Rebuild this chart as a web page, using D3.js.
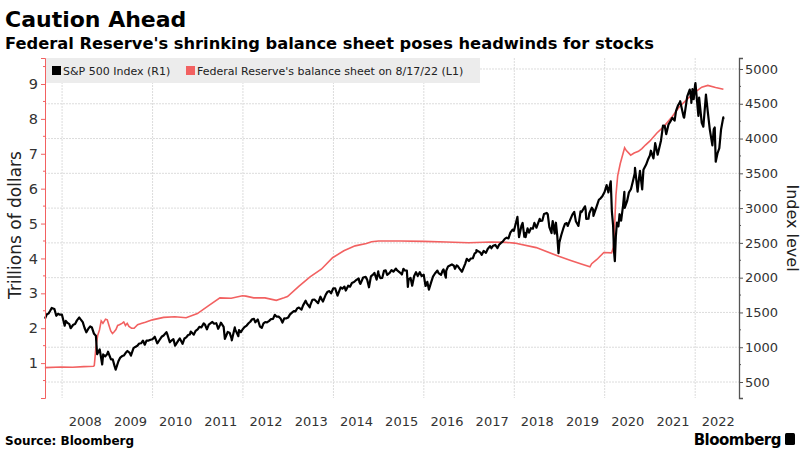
<!DOCTYPE html>
<html><head><meta charset="utf-8">
<script src="https://cdn.jsdelivr.net/npm/d3@7/dist/d3.min.js"></script>
<style>
body{margin:0;background:#fff;}
svg{display:block;font-family:"DejaVu Sans",sans-serif;}
</style></head>
<body><svg id="c" width="805" height="452"></svg>
<script>
const title = "Caution Ahead";
const subtitle = "Federal Reserve's shrinking balance sheet poses headwinds for stocks";
const seriesNames = ["S&P 500 Index (R1)", "Federal Reserve's balance sheet on 8/17/22 (L1)"];
const leftTicks = [1,2,3,4,5,6,7,8,9];
const rightTicks = [500,1000,1500,2000,2500,3000,3500,4000,4500,5000];
const yearLabels = [2008,2009,2010,2011,2012,2013,2014,2015,2016,2017,2018,2019,2020,2021,2022];

const spx = [
["2007-08-16",1411],["2007-08-31",1474],["2007-09-14",1484],["2007-09-28",1527],["2007-10-09",1565],["2007-10-31",1549],["2007-11-15",1452],["2007-11-30",1481],["2007-12-14",1468],["2007-12-31",1468],
["2008-01-22",1310],["2008-01-31",1379],["2008-02-14",1349],["2008-02-29",1331],["2008-03-10",1273],["2008-03-31",1323],["2008-04-15",1334],["2008-04-30",1386],["2008-05-19",1427],["2008-05-30",1400],["2008-06-16",1361],["2008-06-30",1280],["2008-07-15",1214],["2008-07-31",1267],["2008-08-15",1298],["2008-08-29",1283],["2008-09-15",1193],["2008-09-30",1166],["2008-10-10",899],["2008-10-31",969],["2008-11-20",752],["2008-11-28",896],["2008-12-15",868],["2008-12-31",903],
["2009-01-06",935],["2009-01-30",826],["2009-02-13",827],["2009-02-27",735],["2009-03-09",677],["2009-03-31",798],["2009-04-15",852],["2009-04-30",873],["2009-05-15",882],["2009-05-29",919],["2009-06-12",946],["2009-06-30",919],["2009-07-10",879],["2009-07-31",987],["2009-08-14",1004],["2009-08-31",1021],["2009-09-15",1053],["2009-09-30",1057],["2009-10-15",1096],["2009-10-30",1036],["2009-11-13",1094],["2009-11-30",1096],["2009-12-15",1108],["2009-12-31",1115],
["2010-01-19",1150],["2010-02-08",1056],["2010-02-26",1104],["2010-03-15",1150],["2010-03-31",1169],["2010-04-23",1217],["2010-04-30",1187],["2010-05-20",1071],["2010-05-28",1089],["2010-06-18",1117],["2010-07-02",1022],["2010-07-30",1102],["2010-08-09",1127],["2010-08-27",1065],["2010-08-31",1049],["2010-09-15",1125],["2010-09-30",1141],["2010-10-15",1176],["2010-10-29",1183],["2010-11-05",1225],["2010-11-30",1181],["2010-12-15",1236],["2010-12-31",1258],
["2011-01-14",1293],["2011-01-31",1286],["2011-02-18",1343],["2011-02-28",1327],["2011-03-16",1257],["2011-03-31",1326],["2011-04-29",1364],["2011-05-13",1338],["2011-05-31",1345],["2011-06-15",1265],["2011-06-30",1321],["2011-07-07",1353],["2011-07-29",1292],["2011-08-08",1119],["2011-08-31",1219],["2011-09-15",1209],["2011-09-30",1131],["2011-10-03",1099],["2011-10-27",1285],["2011-10-31",1253],["2011-11-25",1159],["2011-11-30",1247],["2011-12-15",1216],["2011-12-30",1258],
["2012-01-13",1289],["2012-01-31",1312],["2012-02-15",1344],["2012-02-29",1366],["2012-03-15",1402],["2012-03-30",1408],["2012-04-10",1358],["2012-04-30",1398],["2012-05-18",1295],["2012-06-01",1278],["2012-06-15",1343],["2012-06-29",1362],["2012-07-13",1356],["2012-07-31",1379],["2012-08-15",1405],["2012-08-31",1407],["2012-09-14",1465],["2012-09-28",1441],["2012-10-15",1440],["2012-10-31",1412],["2012-11-15",1353],["2012-11-30",1416],["2012-12-14",1413],["2012-12-31",1426],
["2013-01-15",1472],["2013-01-31",1498],["2013-02-15",1519],["2013-02-28",1515],["2013-03-15",1561],["2013-03-28",1569],["2013-04-18",1541],["2013-04-30",1598],["2013-05-21",1669],["2013-05-31",1631],["2013-06-24",1573],["2013-06-28",1606],["2013-07-15",1682],["2013-07-31",1686],["2013-08-15",1661],["2013-08-30",1633],["2013-09-18",1726],["2013-09-30",1682],["2013-10-08",1656],["2013-10-31",1757],["2013-11-15",1798],["2013-11-29",1806],["2013-12-13",1775],["2013-12-31",1848],
["2014-01-15",1848],["2014-02-03",1742],["2014-02-28",1859],["2014-03-14",1841],["2014-03-31",1872],["2014-04-11",1815],["2014-04-30",1884],["2014-05-15",1870],["2014-05-30",1924],["2014-06-16",1937],["2014-06-30",1960],["2014-07-24",1988],["2014-07-31",1931],["2014-08-07",1910],["2014-08-29",2003],["2014-09-18",2011],["2014-09-30",1972],["2014-10-15",1862],["2014-10-31",2018],["2014-11-14",2039],["2014-11-28",2068],["2014-12-16",1972],["2014-12-29",2091],["2014-12-31",2059],
["2015-01-15",1993],["2015-01-30",1995],["2015-02-13",2097],["2015-02-27",2105],["2015-03-11",2040],["2015-03-31",2068],["2015-04-15",2107],["2015-04-30",2086],["2015-05-21",2131],["2015-05-29",2107],["2015-06-15",2084],["2015-06-30",2063],["2015-07-08",2046],["2015-07-20",2128],["2015-07-31",2104],["2015-08-17",2102],["2015-08-25",1868],["2015-08-31",1972],["2015-09-16",1996],["2015-09-29",1884],["2015-10-15",2024],["2015-10-30",2079],["2015-11-13",2023],["2015-11-30",2080],["2015-12-14",2022],["2015-12-31",2044],
["2016-01-15",1880],["2016-01-29",1940],["2016-02-11",1829],["2016-02-29",1932],["2016-03-15",2015],["2016-03-31",2060],["2016-04-20",2102],["2016-04-29",2065],["2016-05-19",2040],["2016-05-31",2097],["2016-06-08",2119],["2016-06-27",2001],["2016-06-30",2099],["2016-07-15",2162],["2016-07-29",2174],["2016-08-15",2190],["2016-08-31",2171],["2016-09-09",2128],["2016-09-22",2177],["2016-09-30",2168],["2016-10-14",2133],["2016-11-04",2085],["2016-11-30",2199],["2016-12-13",2271],["2016-12-30",2239],
["2017-01-13",2275],["2017-01-31",2279],["2017-02-15",2350],["2017-02-28",2364],["2017-03-01",2396],["2017-03-31",2363],["2017-04-13",2329],["2017-04-28",2384],["2017-05-17",2357],["2017-05-31",2412],["2017-06-19",2453],["2017-06-30",2423],["2017-07-14",2459],["2017-07-31",2470],["2017-08-18",2426],["2017-08-31",2472],["2017-09-15",2500],["2017-09-29",2519],["2017-10-16",2557],["2017-10-31",2575],["2017-11-15",2565],["2017-11-30",2648],["2017-12-18",2690],["2017-12-29",2674],
["2018-01-26",2873],["2018-02-08",2581],["2018-02-27",2744],["2018-03-09",2786],["2018-03-23",2588],["2018-03-30",2641],["2018-04-02",2582],["2018-04-18",2708],["2018-04-30",2648],["2018-05-15",2711],["2018-05-31",2705],["2018-06-12",2787],["2018-06-29",2718],["2018-07-25",2846],["2018-07-31",2816],["2018-08-15",2819],["2018-08-29",2914],["2018-09-20",2931],["2018-09-28",2914],["2018-10-11",2728],["2018-10-29",2641],["2018-10-31",2712],["2018-11-07",2814],["2018-11-23",2633],["2018-11-30",2760],["2018-12-03",2790],["2018-12-14",2600],["2018-12-24",2351],["2018-12-31",2507],
["2019-01-15",2610],["2019-01-31",2704],["2019-02-15",2776],["2019-02-28",2784],["2019-03-08",2743],["2019-03-29",2834],["2019-04-15",2906],["2019-04-30",2946],["2019-05-13",2812],["2019-05-31",2752],["2019-06-03",2744],["2019-06-20",2954],["2019-06-28",2942],["2019-07-26",3026],["2019-07-31",2980],["2019-08-05",2844],["2019-08-23",2847],["2019-08-30",2926],["2019-09-19",3006],["2019-09-30",2977],["2019-10-02",2887],["2019-10-31",3038],["2019-11-15",3120],["2019-11-29",3141],["2019-12-13",3169],["2019-12-31",3231],
["2020-01-17",3330],["2020-01-31",3226],["2020-02-19",3386],["2020-02-28",2954],["2020-03-09",2747],["2020-03-16",2386],["2020-03-23",2237],["2020-03-31",2585],["2020-04-09",2790],["2020-04-21",2737],["2020-04-30",2912],["2020-05-13",2820],["2020-05-29",3044],["2020-06-08",3232],["2020-06-11",3002],["2020-06-30",3100],["2020-07-15",3227],["2020-07-31",3271],["2020-08-14",3373],["2020-08-31",3500],["2020-09-02",3580],["2020-09-23",3237],["2020-09-30",3363],["2020-10-12",3534],["2020-10-30",3270],["2020-11-09",3550],["2020-11-30",3622],["2020-12-15",3694],["2020-12-31",3756],
["2021-01-08",3825],["2021-01-29",3714],["2021-02-12",3934],["2021-03-04",3768],["2021-03-31",3973],["2021-04-16",4185],["2021-04-30",4181],["2021-05-12",4063],["2021-05-31",4204],["2021-06-15",4246],["2021-06-30",4298],["2021-07-19",4258],["2021-07-30",4395],["2021-08-16",4479],["2021-08-31",4523],["2021-09-02",4537],["2021-09-30",4308],["2021-10-04",4300],["2021-10-29",4605],["2021-11-18",4705],["2021-11-30",4567],["2021-12-01",4513],["2021-12-10",4712],["2021-12-20",4568],["2021-12-31",4766],
["2022-01-03",4796],["2022-01-27",4326],["2022-02-02",4589],["2022-02-23",4225],["2022-03-08",4170],["2022-03-29",4632],["2022-04-12",4397],["2022-04-29",4132],["2022-05-20",3901],["2022-05-31",4132],["2022-06-08",4160],["2022-06-16",3667],["2022-06-30",3785],["2022-07-15",3863],["2022-07-29",4130],["2022-08-16",4305],["2022-08-17",4275]
];

const fed = [
["2007-08-15",0.87],["2007-12-26",0.89],["2008-03-26",0.88],["2008-06-25",0.90],["2008-09-10",0.91],["2008-09-17",0.93],["2008-09-24",1.20],["2008-10-01",1.49],["2008-10-15",1.80],["2008-10-29",1.95],["2008-11-12",2.21],["2008-11-26",2.14],["2008-12-17",2.26],["2008-12-31",2.24],
["2009-01-14",2.08],["2009-01-28",1.92],["2009-02-11",1.85],["2009-02-25",1.90],["2009-03-11",1.96],["2009-03-25",2.08],["2009-04-08",2.10],["2009-04-29",2.14],["2009-05-13",2.18],["2009-05-27",2.08],["2009-06-10",2.14],["2009-06-24",2.05],["2009-07-15",2.00],["2009-08-05",2.00],["2009-09-02",2.10],["2009-10-07",2.14],["2009-11-04",2.17],["2009-12-30",2.24],
["2010-03-31",2.31],["2010-06-30",2.33],["2010-09-29",2.30],["2010-12-29",2.42],["2011-03-30",2.65],["2011-06-29",2.87],["2011-09-28",2.86],["2011-12-28",2.93],["2012-01-25",2.92],["2012-03-28",2.87],["2012-06-27",2.87],["2012-09-26",2.80],["2012-11-28",2.87],["2012-12-26",2.91],
["2013-03-27",3.20],["2013-06-26",3.47],["2013-09-25",3.69],["2013-12-25",4.02],["2014-03-26",4.22],["2014-06-25",4.36],["2014-09-24",4.43],["2014-11-05",4.48],["2014-12-31",4.50],["2015-06-24",4.50],["2015-12-30",4.49],["2016-06-29",4.47],["2016-12-28",4.45],["2017-06-28",4.47],["2017-10-25",4.46],
["2018-01-03",4.44],["2018-06-27",4.31],["2018-12-26",4.06],["2019-03-27",3.95],["2019-06-26",3.84],["2019-09-04",3.76],["2019-09-18",3.85],["2019-10-30",3.97],["2019-12-25",4.17],["2020-02-26",4.16],["2020-03-11",4.31],["2020-03-18",4.66],["2020-03-25",5.25],["2020-04-01",5.81],["2020-04-15",6.37],["2020-05-06",6.72],["2020-06-10",7.17],["2020-06-24",7.09],["2020-07-29",6.96],["2020-08-26",7.02],["2020-09-30",7.07],["2020-10-28",7.15],["2020-11-25",7.25],["2020-12-30",7.36],
["2021-02-24",7.59],["2021-04-28",7.80],["2021-06-30",8.07],["2021-08-25",8.34],["2021-10-27",8.56],["2021-12-29",8.76],["2022-02-23",8.91],["2022-04-13",8.96],["2022-06-15",8.90],["2022-08-17",8.85]
];

const parse = d3.timeParse("%Y-%m-%d");
const svg = d3.select("#c");
const P = {l:45, r:739, t:58, b:398};

const x = d3.scaleTime().domain([parse("2007-08-16"), parse("2022-12-21")]).range([P.l, P.r]);
const yL = d3.scaleLinear().domain([0, 9.745]).range([P.b, P.t]);
const yR = d3.scaleLinear().domain([270, 5158]).range([P.b, P.t]);

// gridlines
const grid = svg.append("g");
grid.selectAll("line.h").data(rightTicks).join("line")
  .attr("x1", P.l).attr("x2", P.r).attr("y1", d=>yR(d)).attr("y2", d=>yR(d))
  .attr("stroke", "#dcdcdc").attr("stroke-width", 1).attr("stroke-dasharray", "2,1");
const gridYears = yearLabels.filter(y => y % 2 === 0);
grid.selectAll("line.v").data(gridYears).join("line")
  .attr("x1", d=>x(new Date(d,0,1))).attr("x2", d=>x(new Date(d,0,1)))
  .attr("y1", P.t).attr("y2", P.b)
  .attr("stroke", "#dcdcdc").attr("stroke-width", 1).attr("stroke-dasharray", "2,1");

// legend band
svg.append("rect").attr("x", P.l).attr("y", P.t).attr("width", 435).attr("height", 25).attr("fill", "#ececec");
const lg = svg.append("g").attr("font-size", 11).attr("fill", "#222");
lg.append("rect").attr("x", 52).attr("y", 66).attr("width", 9).attr("height", 9).attr("fill", "#000");
lg.append("text").attr("x", 63).attr("y", 75).text(seriesNames[0]);
lg.append("rect").attr("x", 186).attr("y", 66).attr("width", 9).attr("height", 9).attr("fill", "#f26161");
lg.append("text").attr("x", 197).attr("y", 75).text(seriesNames[1]);

// lines
const fedLine = d3.line().x(d=>x(parse(d[0]))).y(d=>yL(d[1]));
const spxLine = d3.line().x(d=>x(parse(d[0]))).y(d=>yR(d[1]));
svg.append("path").datum(fed).attr("d", fedLine).attr("fill","none").attr("stroke","#f26161").attr("stroke-width",1.6);
svg.append("path").datum(spx).attr("d", spxLine).attr("fill","none").attr("stroke","#000").attr("stroke-width",2.2).attr("stroke-linejoin","round");

// left axis
const la = svg.append("g").attr("transform", `translate(${P.l},0)`)
  .call(d3.axisLeft(yL).tickValues(leftTicks).tickSize(4).tickPadding(3).tickFormat(d3.format("d")));
la.select(".domain").attr("stroke", "#f26161");
la.selectAll(".tick line").attr("stroke", "#f26161");
la.selectAll("text").attr("font-size", 14.5).attr("fill", "#333").attr("font-family", "DejaVu Sans");
const lminor = d3.range(0.5, 9.6, 1);
svg.append("g").selectAll("line").data(lminor).join("line")
  .attr("x1", P.l-2).attr("x2", P.l).attr("y1", d=>yL(d)).attr("y2", d=>yL(d)).attr("stroke", "#f26161");

// right axis
const ra = svg.append("g").attr("transform", `translate(${P.r},0)`)
  .call(d3.axisRight(yR).tickValues(rightTicks).tickSize(4).tickPadding(2).tickFormat(d3.format("d")));
ra.select(".domain").attr("stroke", "#555").attr("stroke-width", 1.3);
ra.selectAll(".tick line").attr("stroke", "#555");
ra.selectAll("text").attr("font-size", 13).attr("fill", "#333").attr("font-family", "DejaVu Sans");
const rminor = d3.range(750, 5001, 500);
svg.append("g").selectAll("line").data(rminor).join("line")
  .attr("x1", P.r).attr("x2", P.r+2).attr("y1", d=>yR(d)).attr("y2", d=>yR(d)).attr("stroke", "#555");

// x axis year labels (centered mid-year)
const xa = svg.append("g").attr("transform", `translate(0,${P.b+16})`)
  .call(d3.axisBottom(x).tickValues(yearLabels.map(y=>new Date(y,6,2))).tickSize(0).tickFormat(d3.timeFormat("%Y")));
xa.select(".domain").remove();
xa.selectAll("text").attr("font-size", 13).attr("fill", "#333").attr("font-family", "DejaVu Sans");

// axis titles
svg.append("text").attr("transform", "translate(21,225) rotate(-90)").attr("text-anchor","middle")
  .attr("font-size", 17).attr("fill", "#222").text("Trillions of dollars");
svg.append("text").attr("transform", "translate(787,228) rotate(90)").attr("text-anchor","middle")
  .attr("font-size", 16).attr("fill", "#222").text("Index level");

// titles
svg.append("text").attr("x", 5).attr("y", 27).attr("font-size", 22).attr("font-weight", "bold").attr("fill", "#000").text(title);
svg.append("text").attr("x", 5).attr("y", 49).attr("font-size", 16.3).attr("font-weight", "bold").attr("fill", "#000").text(subtitle);

// footer
svg.append("text").attr("x", 5).attr("y", 445).attr("font-size", 12).attr("font-weight", "bold").attr("fill", "#000").text("Source: Bloomberg");
svg.append("text").attr("x", 781).attr("y", 445).attr("text-anchor","end").attr("font-size", 15).attr("font-weight", "bold").attr("letter-spacing", -0.5).attr("fill", "#000").text("Bloomberg");
svg.append("rect").attr("x", 785).attr("y", 433).attr("width", 10).attr("height", 12).attr("rx", 1.5).attr("fill", "#000");
</script></body></html>
